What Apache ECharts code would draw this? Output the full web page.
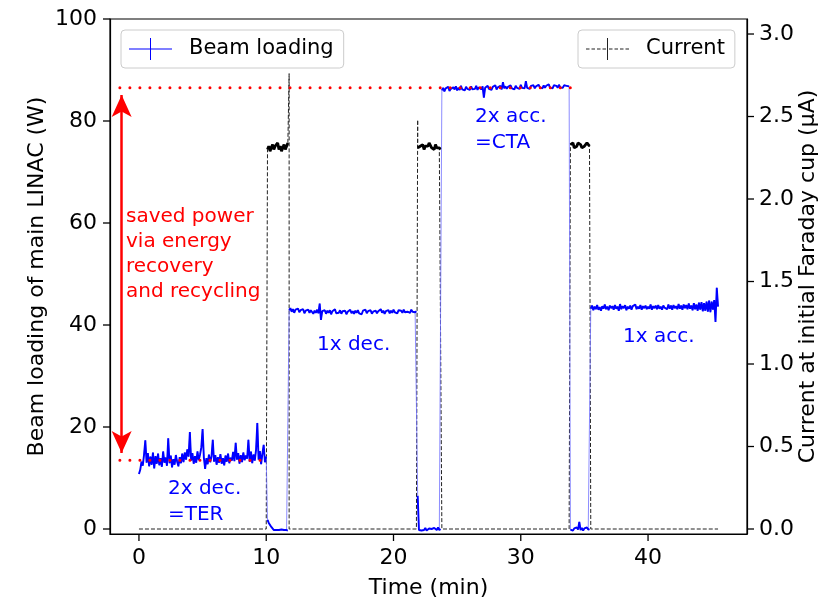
<!DOCTYPE html>
<html>
<head>
<meta charset="utf-8">
<script src="https://cdn.jsdelivr.net/npm/echarts@6/dist/echarts.min.js"></script>
<style>
html,body{margin:0;padding:0;background:#fff;}
#chart{width:834px;height:598px;}
</style>
</head>
<body>
<div id="chart"></div>
<script>
// ---------------- data ----------------
const DT = 0.1; // sampling step of the logged data (min)

// Tick labels
const xTicks = [0, 10, 20, 30, 40];
const yLeftTicks = [0, 20, 40, 60, 80, 100];
const yRightTicks = [0, 0.5, 1.0, 1.5, 2.0, 2.5, 3.0];

// Beam loading of main LINAC (W), segments sampled every DT from their start time
const tBeam2xDec = 0.0;
const beam2xDec = [10.8,11.6,13.2,12.4,14.6,17.4,13.0,14.9,12.3,14.2,
  12.6,15.0,11.9,14.3,12.8,14.8,12.5,13.9,12.2,15.2,
  13.0,14.0,12.4,17.8,12.9,14.4,12.1,13.7,12.6,14.5,
  13.2,12.3,14.1,12.9,14.8,13.1,15.0,13.6,15.6,14.2,
  19.0,13.4,14.9,12.8,14.3,13.0,15.2,13.5,14.6,16.0,
  19.6,14.0,11.8,13.9,12.7,14.6,13.1,14.2,17.5,13.2,
  14.5,12.6,14.1,13.0,14.7,12.8,13.9,12.5,14.4,13.2,
  14.8,12.9,14.0,13.4,15.1,13.3,16.9,13.6,14.9,12.8,
  14.5,13.1,15.0,13.5,14.4,13.8,17.5,13.2,15.2,12.9,
  14.6,13.4,15.5,20.8,13.6,15.3,12.7,14.8,16.5,13.1,
  14.2];
const tBeamOff1 = 10.1;
const beamOff1 = [1.8,1.2,0.8,0.4,0.1,-0.2,-0.3,-0.2,-0.4,-0.2,-0.3,-0.1,-0.3,-0.2,-0.4,-0.2,-0.3];
const tBeam1xDec = 11.8;
const beam1xDec = [42.9,43.3,42.6,43.1,42.4,43.0,42.7,43.2,42.5,42.9,
  42.6,43.1,42.3,42.8,42.5,43.0,42.4,42.9,42.6,42.2,
  42.8,42.4,43.0,42.3,44.2,41.0,42.7,42.5,42.9,42.2,
  42.8,42.4,42.9,42.1,42.7,42.5,43.1,42.3,42.6,42.4,
  42.9,42.2,42.7,42.4,42.8,42.1,42.6,42.5,43.0,42.3,
  42.7,42.2,42.8,42.4,42.9,42.3,42.6,42.1,42.8,42.5,
  43.0,42.3,42.7,42.4,42.9,42.2,42.6,42.4,42.8,42.3,
  42.7,42.5,43.1,42.4,42.8,42.2,42.7,42.5,42.9,42.3,
  42.8,42.4,43.0,42.5,42.7,42.3,42.9,42.6,42.8,42.4,
  43.0,42.5,42.8,42.6,42.9,42.4,43.0,42.6,42.8,42.5,
  42.7];
const tBeamOff2 = 21.9;
const beamOff2 = [6.5,-0.2,0.1,-0.3,0.0,-0.2,0.2,-0.3,-0.1,0.1,-0.2,0.0,-0.3,0.2,-0.1,-0.2,0.3,-0.2,0.0];
const tBeam2xAcc = 23.8;
const beam2xAcc = [86.0,86.5,85.8,86.4,86.1,86.7,85.9,86.3,86.0,86.6,
  86.2,86.8,86.0,86.5,86.1,86.9,86.2,86.4,86.0,86.7,
  86.3,86.6,86.1,86.8,86.2,86.5,86.3,86.9,86.1,86.6,
  86.4,86.2,86.8,84.6,86.5,86.2,86.9,86.3,86.6,86.1,
  86.7,86.4,87.0,86.2,86.6,86.3,86.9,86.2,87.6,86.4,
  86.8,86.3,86.7,86.5,87.0,86.4,86.6,86.2,86.9,86.5,
  86.7,86.3,87.1,86.5,86.8,86.4,87.8,86.5,86.7,86.3,
  86.9,86.6,87.0,86.4,86.8,86.5,87.1,86.6,86.7,86.4,
  87.0,86.5,86.9,86.6,87.2,86.5,86.8,86.4,87.0,86.7,
  86.9,86.5,87.1,86.6,86.8,86.5,87.0,86.7,86.9,86.6,
  86.8];
const tBeamOff3 = 33.9;
const beamOff3 = [-0.1,0.2,-0.3,0.1,-0.2,0.3,-0.1,1.4,-0.2,0.2,-0.3,0.1,-0.2,0.3,-0.1,0.0];
const tBeam1xAcc = 35.5;
const beam1xAcc = [43.2,43.8,42.9,43.6,43.1,43.9,43.0,43.5,42.8,43.7,
  43.2,44.0,43.1,43.6,42.9,43.8,43.3,43.7,43.0,43.9,
  43.2,43.6,42.8,44.1,43.1,43.7,43.3,43.9,42.9,43.6,
  43.2,43.8,43.0,43.7,43.4,44.0,43.1,43.6,43.2,43.9,
  43.0,43.7,43.3,43.8,43.1,43.6,43.2,44.0,43.0,43.7,
  43.3,43.8,43.1,43.9,43.2,43.6,43.0,43.8,43.4,43.7,
  43.1,44.0,43.2,43.8,43.0,43.9,43.3,43.7,43.1,44.1,
  43.2,43.8,43.0,44.0,43.3,43.9,43.1,44.2,43.2,43.8,
  42.9,44.3,43.1,44.0,42.8,44.4,43.0,44.5,42.7,44.3,
  42.8,44.6,42.6,44.8,42.5,44.6,43.0,44.9,40.6,47.3,
  43.6];

// Current at initial Faraday cup (µA)
const tCurOn1 = 10.1;
const curOn1 = [2.30,2.32,2.29,2.31,2.33,2.30,2.32,2.31,2.34,2.30,2.32,2.29,2.31,2.33,2.30,2.32,2.34];
const tCurOn2 = 21.9;
const curOn2 = [2.31,2.30,2.32,2.31,2.33,2.30,2.32,2.33,2.32,2.34,2.33,2.31,2.32,2.30,2.33,2.31,2.32,2.31,2.30];
const tCurOn3 = 33.9;
const curOn3 = [2.33,2.32,2.34,2.31,2.30,2.32,2.34,2.35,2.33,2.31,2.30,2.32,2.33,2.34,2.33,2.32];
const curOffStart = [0, 11.8, 23.8, 35.5];   // beam off at the cup: start times (min)
const curOffEnd   = [10.0, 21.8, 33.8, 45.5]; // ... and end times (min)
const curSpikeTime = [11.8, 21.9];
const curSpikeValue = [2.76, 2.48];

// Annotation levels (W)
const savedTop = 86.5;      // 2x acc. (CTA) level
const savedBottom = 13.5;   // 2x dec. (TER) level
const savedLineStart = -1.5;
const savedTopEnd = 33.9;
const savedBottomEnd = 10.1;
const arrowX = -1.36;
const arrowTop = 85.1;
const arrowBottom = 14.9;

// Axis ranges
const xMin = -2.275, xMax = 47.775;
const yLMin = -0.98, yLMax = 100;
const yRMin = -0.0303, yRMax = 3.091;

// ---------------- build ----------------
function seg(t0, vals) {
  return vals.map((v, i) => [Math.round((t0 + i * DT) * 100) / 100, v]);
}
const beamSegments = [
  [tBeam2xDec, beam2xDec], [tBeamOff1, beamOff1], [tBeam1xDec, beam1xDec],
  [tBeamOff2, beamOff2], [tBeam2xAcc, beam2xAcc], [tBeamOff3, beamOff3],
  [tBeam1xAcc, beam1xAcc]
];
const beamData = [].concat(...beamSegments.map(s => seg(s[0], s[1])));

const currentData = [].concat(
  [[curOffStart[0], 0], [curOffEnd[0], 0]],
  seg(tCurOn1, curOn1),
  [[curSpikeTime[0], curSpikeValue[0]], [curOffStart[1], 0], [curOffEnd[1], 0]],
  [[curSpikeTime[1], curSpikeValue[1]]],
  seg(tCurOn2, curOn2),
  [[curOffStart[2], 0], [curOffEnd[2], 0]],
  seg(tCurOn3, curOn3),
  [[curOffStart[3], 0], [curOffEnd[3], 0]]
);

const FONT = 'DejaVu Sans';
const txt = {fontFamily: FONT, color: '#000'};
const GRID = {left: 110, right: 87, top: 19, bottom: 64};
const W = 834, H = 598;

const plusIcon = 'path://M0,10.5H43V11.5H0Z M21,0H22V22H21Z';
const dashPlusIcon = 'path://M0,10.5H3.5V11.5H0Z M5.5,10.5H9V11.5H5.5Z M11,10.5H14.5V11.5H11Z M16.5,10.5H20V11.5H16.5Z M21,0H22V22H21Z M23,10.5H26.5V11.5H23Z M28.5,10.5H32V11.5H28.5Z M34,10.5H37.5V11.5H34Z M39.5,10.5H43V11.5H39.5Z';

const legendCommon = {
  top: 30, orient: 'horizontal', itemWidth: 43, itemHeight: 22,
  padding: [8, 10, 8, 8], borderColor: '#cccccc', borderWidth: 1, borderRadius: 4,
  backgroundColor: 'rgba(255,255,255,0.85)',
  itemStyle: {borderWidth: 0},
  textStyle: {fontFamily: FONT, fontSize: 21, color: '#000', padding: [0, 0, 0, 12]},
  selectedMode: false
};

const plateauSeries = [[tCurOn1, curOn1], [tCurOn2, curOn2], [tCurOn3, curOn3]].map(p => ({
  name: 'Current', type: 'line', yAxisIndex: 1, data: seg(p[0], p[1]),
  showSymbol: false, symbol: 'none', silent: true, z: 3,
  itemStyle: {color: '#000'},
  lineStyle: {color: '#000', width: 2.8}
}));

const beamBandSeries = beamSegments.map(s => ({
  name: 'Beam loading', type: 'line', yAxisIndex: 0, data: seg(s[0], s[1]),
  showSymbol: false, symbol: 'none', silent: true, z: 5,
  itemStyle: {color: '#0000ff'},
  lineStyle: {color: '#0000ff', width: 1.9}
}));

const axisLineStyle = {show: true, onZero: false, lineStyle: {color: '#000', width: 1.2}};

const annotations = [
  {type: 'text', style: {x: 126, y: 204, text: 'saved power\nvia energy\nrecovery\nand recycling',
    fill: '#ff0000', font: '20px "DejaVu Sans"', lineHeight: 25, verticalAlign: 'top'}},
  {type: 'text', style: {x: 168, y: 476, text: '2x dec.\n=TER', fill: '#0000ff', font: '20px "DejaVu Sans"',
    lineHeight: 26, verticalAlign: 'top'}},
  {type: 'text', style: {x: 317, y: 345, text: '1x dec.', fill: '#0000ff', font: '20px "DejaVu Sans"',
    verticalAlign: 'middle'}},
  {type: 'text', style: {x: 475, y: 104, text: '2x acc.\n=CTA', fill: '#0000ff', font: '20px "DejaVu Sans"',
    lineHeight: 26, verticalAlign: 'top'}},
  {type: 'text', style: {x: 623, y: 337, text: '1x acc.', fill: '#0000ff', font: '20px "DejaVu Sans"',
    verticalAlign: 'middle'}}
];

// Outward tick marks (matplotlib style), positioned on the axis ranges
const TICK = 7;
const xB = H - GRID.bottom, xL = GRID.left, xR = W - GRID.right, yT = GRID.top;
function px(v) { return xL + (v - xMin) / (xMax - xMin) * (xR - xL); }
function pyL(v) { return xB - (v - yLMin) / (yLMax - yLMin) * (xB - yT); }
function pyR(v) { return xB - (v - yRMin) / (yRMax - yRMin) * (xB - yT); }
const tickMarks = [];
xTicks.forEach(v => tickMarks.push({type: 'rect', z: 100, silent: true,
  shape: {x: px(v) - 0.65, y: xB, width: 1.3, height: TICK}, style: {fill: '#000'}}));
yLeftTicks.forEach(v => tickMarks.push({type: 'rect', z: 100, silent: true,
  shape: {x: xL - TICK, y: pyL(v) - 0.65, width: TICK, height: 1.3}, style: {fill: '#000'}}));
yRightTicks.forEach(v => tickMarks.push({type: 'rect', z: 100, silent: true,
  shape: {x: xR, y: pyR(v) - 0.65, width: TICK, height: 1.3}, style: {fill: '#000'}}));

const option = {
  animation: false,
  backgroundColor: '#fff',
  textStyle: {fontFamily: FONT},
  grid: Object.assign({show: true, borderColor: '#000', borderWidth: 1.2,
         outerBoundsMode: 'none', containLabel: false}, GRID),
  legend: [
    Object.assign({}, legendCommon, {left: 121, data: [{name: 'Beam loading', icon: plusIcon, itemStyle: {color: '#0000ff'}}]}),
    Object.assign({}, legendCommon, {left: 578, data: [{name: 'Current', icon: dashPlusIcon, itemStyle: {color: '#222'}}]})
  ],
  xAxis: {
    type: 'value', min: xMin, max: xMax,
    name: 'Time (min)', nameLocation: 'middle', nameGap: 43, nameMoveOverlap: false,
    nameTextStyle: Object.assign({fontSize: 22}, txt),
    axisLine: axisLineStyle,
    axisTick: {show: false},
    axisLabel: {customValues: xTicks, fontSize: 22, color: '#000', fontFamily: FONT, margin: 13},
    splitLine: {show: false}
  },
  yAxis: [
    {
      type: 'value', position: 'left', min: yLMin, max: yLMax,
      name: 'Beam loading of main LINAC (W)', nameLocation: 'middle', nameGap: 62, nameRotate: 90,
      nameMoveOverlap: false,
      nameTextStyle: Object.assign({fontSize: 22}, txt),
      axisLine: axisLineStyle,
      axisTick: {show: false},
      axisLabel: {customValues: yLeftTicks, fontSize: 22, color: '#000', fontFamily: FONT, margin: 13},
      splitLine: {show: false}
    },
    {
      type: 'value', position: 'right', min: yRMin, max: yRMax,
      name: 'Current at initial Faraday cup (µA)', nameLocation: 'middle', nameGap: 50, nameRotate: 90,
      nameMoveOverlap: false,
      nameTextStyle: Object.assign({fontSize: 22}, txt),
      axisLine: axisLineStyle,
      axisTick: {show: false},
      axisLabel: {customValues: yRightTicks, fontSize: 22, color: '#000', fontFamily: FONT, margin: 12,
                  formatter: v => v.toFixed(1)},
      splitLine: {show: false}
    }
  ],
  series: [
    {
      name: 'Current', type: 'line', yAxisIndex: 1, data: currentData,
      showSymbol: false, symbol: 'none', silent: true, z: 2,
      itemStyle: {color: '#000'},
      lineStyle: {color: '#222', width: 1, type: [4, 2]}
    }
  ].concat(plateauSeries).concat([
    {
      name: 'Beam loading', type: 'line', yAxisIndex: 0, data: beamData,
      showSymbol: false, symbol: 'none', silent: true, z: 4,
      itemStyle: {color: '#0000ff'},
      lineStyle: {color: '#6f6fff', width: 0.8}
    }
  ]).concat(beamBandSeries).concat([
    {
      name: 'saved-top', type: 'line', yAxisIndex: 0, silent: true, z: 6,
      data: [[savedLineStart, savedTop], [savedTopEnd, savedTop]],
      showSymbol: false, symbol: 'none',
      lineStyle: {color: '#ff0000', width: 3, type: [0.01, 10], cap: 'round'}
    },
    {
      name: 'saved-bottom', type: 'line', yAxisIndex: 0, silent: true, z: 6,
      data: [[savedLineStart, savedBottom], [savedBottomEnd, savedBottom]],
      showSymbol: false, symbol: 'none',
      lineStyle: {color: '#ff0000', width: 3, type: [0.01, 10], cap: 'round'},
      markLine: {
        silent: true, symbol: ['arrow', 'arrow'], symbolSize: [15, 22], animation: false,
        label: {show: false},
        lineStyle: {color: '#ff0000', width: 2.5, type: 'solid'},
        emphasis: {disabled: true},
        data: [[{coord: [arrowX, arrowBottom]}, {coord: [arrowX, arrowTop]}]]
      }
    }
  ]),
  graphic: {elements: annotations.concat(tickMarks)}
};

const chart = echarts.init(document.getElementById('chart'), null, {renderer: 'canvas'});
chart.setOption(option);
</script>
</body>
</html>
